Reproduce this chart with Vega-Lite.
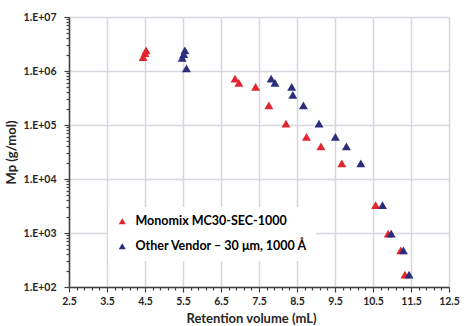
{
  "$schema": "https://vega.github.io/schema/vega-lite/v6.json",
  "width": 380,
  "height": 270,
  "autosize": {"type": "none"},
  "padding": {"left": 69, "top": 17, "right": 17, "bottom": 39},
  "background": "white",
  "config": {
    "view": {"stroke": null},
    "font": "Lato"
  },
  "data": {
    "values": [
      {"series": "Monomix MC30-SEC-1000", "vol": 4.53, "mp": 2400000},
      {"series": "Monomix MC30-SEC-1000", "vol": 4.5, "mp": 2150000},
      {"series": "Monomix MC30-SEC-1000", "vol": 4.45, "mp": 1800000},
      {"series": "Monomix MC30-SEC-1000", "vol": 6.87, "mp": 720000},
      {"series": "Monomix MC30-SEC-1000", "vol": 6.97, "mp": 600000},
      {"series": "Monomix MC30-SEC-1000", "vol": 7.41, "mp": 510000},
      {"series": "Monomix MC30-SEC-1000", "vol": 7.76, "mp": 230000},
      {"series": "Monomix MC30-SEC-1000", "vol": 8.21, "mp": 106000},
      {"series": "Monomix MC30-SEC-1000", "vol": 8.75, "mp": 60000},
      {"series": "Monomix MC30-SEC-1000", "vol": 9.13, "mp": 40000},
      {"series": "Monomix MC30-SEC-1000", "vol": 9.68, "mp": 19500},
      {"series": "Monomix MC30-SEC-1000", "vol": 10.57, "mp": 3270},
      {"series": "Monomix MC30-SEC-1000", "vol": 10.9, "mp": 975},
      {"series": "Monomix MC30-SEC-1000", "vol": 11.23, "mp": 478},
      {"series": "Monomix MC30-SEC-1000", "vol": 11.34, "mp": 170},
      {"series": "Other Vendor – 30 μm, 1000 Å", "vol": 5.55, "mp": 2400000},
      {"series": "Other Vendor – 30 μm, 1000 Å", "vol": 5.52, "mp": 2050000},
      {"series": "Other Vendor – 30 μm, 1000 Å", "vol": 5.48, "mp": 1750000},
      {"series": "Other Vendor – 30 μm, 1000 Å", "vol": 5.59, "mp": 1120000},
      {"series": "Other Vendor – 30 μm, 1000 Å", "vol": 7.82, "mp": 720000},
      {"series": "Other Vendor – 30 μm, 1000 Å", "vol": 7.92, "mp": 600000},
      {"series": "Other Vendor – 30 μm, 1000 Å", "vol": 8.36, "mp": 510000},
      {"series": "Other Vendor – 30 μm, 1000 Å", "vol": 8.39, "mp": 360000},
      {"series": "Other Vendor – 30 μm, 1000 Å", "vol": 8.67, "mp": 230000},
      {"series": "Other Vendor – 30 μm, 1000 Å", "vol": 9.08, "mp": 106000},
      {"series": "Other Vendor – 30 μm, 1000 Å", "vol": 9.51, "mp": 60000},
      {"series": "Other Vendor – 30 μm, 1000 Å", "vol": 9.8, "mp": 40000},
      {"series": "Other Vendor – 30 μm, 1000 Å", "vol": 10.18, "mp": 19500},
      {"series": "Other Vendor – 30 μm, 1000 Å", "vol": 10.75, "mp": 3270},
      {"series": "Other Vendor – 30 μm, 1000 Å", "vol": 10.98, "mp": 975},
      {"series": "Other Vendor – 30 μm, 1000 Å", "vol": 11.3, "mp": 478},
      {"series": "Other Vendor – 30 μm, 1000 Å", "vol": 11.45, "mp": 170}
    ]
  },
  "mark": {"type": "point", "shape": "triangle-up", "filled": true, "opacity": 1, "size": 80},
  "encoding": {
    "x": {
      "field": "vol",
      "type": "quantitative",
      "scale": {"domain": [2.5, 12.5], "nice": false, "zero": false},
      "axis": {
        "title": "Retention volume (mL)",
        "values": [2.5, 2.7, 2.9, 3.1, 3.3, 3.5, 3.7, 3.9, 4.1, 4.3, 4.5, 4.7, 4.9, 5.1, 5.3, 5.5, 5.7, 5.9, 6.1, 6.3, 6.5, 6.7, 6.9, 7.1, 7.3, 7.5, 7.7, 7.9, 8.1, 8.3, 8.5, 8.7, 8.9, 9.1, 9.3, 9.5, 9.7, 9.9, 10.1, 10.3, 10.5, 10.7, 10.9, 11.1, 11.3, 11.5, 11.7, 11.9, 12.1, 12.3, 12.5],
        "labelExpr": "abs((round(datum.value*10) % 10) - 5) < 0.1 ? format(datum.value, '.1f') : ''",
        "labelOverlap": false,
        "labelBound": false,
        "labelFlush": false,
        "labelFont": "Lato",
        "labelFontWeight": "bold",
        "labelFontSize": 10.5,
        "labelColor": "#262626",
        "labelPadding": 4,
        "domainColor": "#404040",
        "domainWidth": 1.5,
        "tickColor": "#404040",
        "tickWidth": 1.2,
        "tickSize": {"condition": {"test": "abs((round(datum.value*10) % 10) - 5) < 0.1", "value": 5}, "value": 3},
        "grid": true,
        "gridColor": "#d6d6de",
        "gridWidth": 1.5,
        "gridOpacity": {"condition": {"test": "abs((round(datum.value*10) % 10) - 5) < 0.1", "value": 1}, "value": 0},
        "titleFont": "Lato",
        "titleFontWeight": "bold",
        "titleFontSize": 13,
        "titleColor": "#262626",
        "titleX": 182,
        "titleY": 31,
        "titleBaseline": "middle",
        "titleAlign": "center"
      }
    },
    "y": {
      "field": "mp",
      "type": "quantitative",
      "scale": {"type": "log", "domain": [100, 10000000], "nice": false},
      "axis": {
        "title": "Mp (g/mol)",
        "values": [100, 200, 300, 400, 500, 600, 700, 800, 900, 1000, 2000, 3000, 4000, 5000, 6000, 7000, 8000, 9000, 10000, 20000, 30000, 40000, 50000, 60000, 70000, 80000, 90000, 100000, 200000, 300000, 400000, 500000, 600000, 700000, 800000, 900000, 1000000, 2000000, 3000000, 4000000, 5000000, 6000000, 7000000, 8000000, 9000000, 10000000],
        "labelExpr": "abs(log(datum.value)/LN10 - round(log(datum.value)/LN10)) < 0.000001 ? '1.E+0' + round(log(datum.value)/LN10) : ''",
        "labelOverlap": false,
        "labelBound": false,
        "labelFlush": false,
        "labelFont": "Lato",
        "labelFontWeight": "bold",
        "labelFontSize": 10.5,
        "labelColor": "#262626",
        "labelPadding": 8,
        "domainColor": "#404040",
        "domainWidth": 1.5,
        "tickColor": "#404040",
        "tickWidth": 1.2,
        "tickSize": {"condition": {"test": "abs(log(datum.value)/LN10 - round(log(datum.value)/LN10)) < 0.000001", "value": 5}, "value": 3},
        "grid": true,
        "gridColor": "#d6d6de",
        "gridWidth": 1.5,
        "gridOpacity": {"condition": {"test": "abs(log(datum.value)/LN10 - round(log(datum.value)/LN10)) < 0.000001", "value": 1}, "value": 0},
        "titleFont": "Lato",
        "titleFontWeight": "bold",
        "titleFontSize": 13,
        "titleColor": "#262626",
        "titleX": -58,
        "titleY": 135,
        "titleAngle": -90,
        "titleBaseline": "middle",
        "titleAlign": "center"
      }
    },
    "color": {
      "field": "series",
      "type": "nominal",
      "scale": {"domain": ["Monomix MC30-SEC-1000", "Other Vendor – 30 μm, 1000 Å"], "range": ["#e3262e", "#2a2e7c"]},
      "legend": {
        "title": null,
        "orient": "none",
        "legendX": 39,
        "legendY": 190,
        "padding": 8,
        "fillColor": "white",
        "strokeColor": null,
        "symbolType": "triangle-up",
        "symbolSize": 50,
        "symbolStrokeWidth": 0,
        "labelFont": "Lato",
        "labelFontWeight": "bold",
        "labelFontSize": 12.5,
        "labelOffset": 7,
        "labelLimit": 400,
        "rowPadding": 12,
        "encode": {
          "labels": {"update": {"fill": {"signal": "datum.value === 'Monomix MC30-SEC-1000' ? '#e3262e' : '#2a2e7c'"}}}
        }
      }
    }
  }
}
